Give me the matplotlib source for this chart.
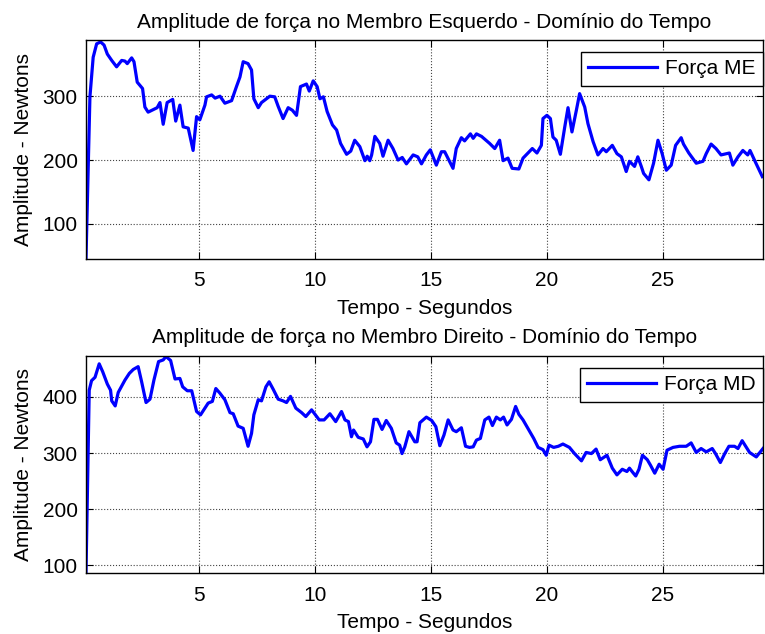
import matplotlib
matplotlib.use('Agg')
import matplotlib.pyplot as plt
import numpy as np

plt.rcParams['font.family'] = ['Liberation Sans', 'DejaVu Sans']

# Força no membro esquerdo (ME)
t_me = [0.13, 0.30, 0.44, 0.59, 0.76, 0.91, 1.05, 1.24, 1.45, 1.67, 1.81, 1.91, 2.10, 2.20, 2.34,
        2.57, 2.67, 2.81, 3.03, 3.20, 3.32, 3.46, 3.63, 3.87, 4.00, 4.18, 4.32, 4.54, 4.75, 4.90,
        5.04, 5.26, 5.33, 5.55, 5.70, 5.91, 6.12, 6.41, 6.62, 6.77, 6.91, 7.12, 7.27, 7.37, 7.56,
        7.70, 8.06, 8.27, 8.42, 8.63, 8.85, 9.03, 9.21, 9.38, 9.64, 9.76, 9.93, 10.10, 10.22, 10.37,
        10.53, 10.76, 10.94, 11.11, 11.37, 11.55, 11.72, 11.94, 12.16, 12.26, 12.37, 12.45, 12.59,
        12.80, 12.94, 13.16, 13.37, 13.59, 13.77, 13.95, 14.24, 14.44, 14.60, 14.81, 14.98, 15.24,
        15.46, 15.60, 15.96, 16.10, 16.32, 16.46, 16.71, 16.83, 16.97, 17.19, 17.54, 17.76, 17.97,
        18.12, 18.33, 18.51, 18.80, 18.98, 19.19, 19.38, 19.58, 19.77, 19.84, 20.01, 20.16, 20.27,
        20.41, 20.59, 20.78, 20.92, 21.09, 21.28, 21.42, 21.64, 21.78, 22.00, 22.21, 22.43, 22.57,
        22.83, 23.03, 23.22, 23.43, 23.57, 23.79, 23.93, 24.08, 24.18, 24.41, 24.61, 24.80, 24.98,
        25.16, 25.37, 25.56, 25.80, 25.90, 26.13, 26.45, 26.74, 26.88, 27.09, 27.30, 27.52, 27.88,
        28.03, 28.25, 28.46, 28.67, 28.77, 28.96, 29.30]
f_me = [45, 299, 361, 382, 385, 380, 366, 356, 346, 356, 355, 351, 360, 354, 322,
        312, 283, 275, 279, 282, 290, 256, 290, 295, 261, 286, 252, 250, 215, 268,
        263, 286, 299, 302, 297, 300, 289, 293, 315, 330, 354, 351, 341, 296, 282,
        290, 300, 299, 284, 265, 282, 278, 270, 315, 319, 308, 324, 315, 296, 299,
        276, 255, 247, 226, 209, 214, 231, 221, 199, 206, 199, 208, 237,
        226, 206, 231, 218, 200, 204, 194, 208, 205, 194, 208, 216, 192,
        213, 213, 187, 218, 235, 230, 241, 234, 241, 237, 226, 218, 231,
        199, 203, 187, 186, 203, 211, 218, 211, 223, 265, 270, 265, 236,
        231, 209, 252, 282, 244, 278, 304, 283, 257, 229, 208, 218, 213,
        223, 210, 205, 182, 198, 190, 205, 190, 179, 169, 195, 231, 210,
        184, 192, 223, 235, 225, 211, 195, 198, 210, 225, 218, 208, 211,
        192, 205, 215, 208, 215, 200, 174]

# Força no membro direito (MD)
t_md = [0.13, 0.27, 0.37, 0.52, 0.70, 0.85, 1.05, 1.19, 1.24, 1.39, 1.52, 1.81, 2.00, 2.17, 2.38,
        2.53, 2.72, 2.89, 3.06, 3.26, 3.46, 3.58, 3.78, 3.97, 4.18, 4.30, 4.50, 4.69, 4.90, 5.07,
        5.40, 5.58, 5.73, 5.90, 6.12, 6.34, 6.48, 6.69, 6.91, 7.12, 7.27, 7.37, 7.56, 7.70, 7.89,
        8.03, 8.20, 8.42, 8.63, 8.78, 8.95, 9.18, 9.43, 9.61, 9.86, 10.19, 10.40, 10.65, 10.90,
        11.15, 11.30, 11.45, 11.58, 11.67, 11.87, 12.09, 12.25, 12.40, 12.55, 12.70, 12.90, 13.08,
        13.30, 13.51, 13.66, 13.76, 13.88, 14.06, 14.31, 14.41, 14.53, 14.81, 15.04, 15.22, 15.39,
        15.57, 15.75, 15.96, 16.10, 16.32, 16.50, 16.67, 16.83, 16.97, 17.14, 17.33, 17.51, 17.66,
        17.83, 18.00, 18.14, 18.29, 18.48, 18.66, 18.80, 18.98, 19.27, 19.44, 19.63, 19.84, 19.98,
        20.10, 20.30, 20.50, 20.70, 20.98, 21.20, 21.50, 21.70, 21.93, 22.13, 22.31, 22.60, 22.83,
        23.03, 23.26, 23.46, 23.57, 23.72, 23.84, 23.98, 24.13, 24.34, 24.48, 24.66, 24.85, 25.02,
        25.19, 25.45, 25.73, 26.02, 26.23, 26.45, 26.66, 26.88, 27.14, 27.28, 27.49, 27.68, 27.86,
        28.10, 28.25, 28.43, 28.58, 28.75, 29.04, 29.33]
f_md = [85, 412, 429, 435, 459, 445, 423, 412, 393, 384, 408, 430, 442, 449, 454,
        427, 390, 396, 430, 463, 466, 472, 465, 432, 433, 418, 411, 411, 374, 368,
        389, 392, 415, 407, 395, 372, 370, 348, 344, 312, 335, 368, 395, 393, 418,
        427, 414, 396, 393, 390, 401, 380, 372, 365, 377, 359, 359, 370, 356,
        374, 359, 356, 329, 341, 328, 325, 311, 320, 360, 360, 342, 358,
        344, 318, 314, 299, 311, 338, 320, 320, 354, 364, 358, 347, 313,
        332, 359, 341, 338, 345, 312, 310, 311, 323, 326, 359, 364, 349,
        364, 359, 364, 350, 360, 383, 369, 359, 338, 326, 310, 306, 296,
        314, 310, 312, 316, 310, 299, 286, 301, 299, 307, 288, 296, 273,
        261, 271, 267, 273, 265, 259, 271, 296, 288, 278, 264, 280, 271,
        305, 310, 312, 312, 318, 301, 308, 302, 308, 299, 283, 299, 312,
        312, 308, 322, 312, 301, 293, 308]

x_ticks = [5, 10, 15, 20, 25]
fs = 15

fig = plt.figure(figsize=(7.65, 6.34), dpi=100)
ax1 = fig.add_axes([0.1124, 0.5915, 0.885, 0.3454])
ax2 = fig.add_axes([0.1124, 0.0962, 0.885, 0.3423])


def estilo(ax, t, f, rotulo, titulo, ylim, yticks):
    ax.plot(t, f, color='#0000ff', lw=2.3, label=rotulo)
    ax.set_xlim(0.13, 29.33)
    ax.set_ylim(*ylim)
    ax.set_xticks(x_ticks)
    ax.set_yticks(yticks)
    ax.grid(True, linestyle=':', color='#444444', lw=0.8)
    ax.tick_params(direction='in', top=True, right=True, length=5, width=0.8,
                   labelsize=fs)
    ax.tick_params(axis='x', pad=9)
    ax.tick_params(axis='y', pad=6)
    for s in ax.spines.values():
        s.set_linewidth(1.0)
    ax.set_title(titulo, fontsize=fs, pad=9)
    ax.set_xlabel('Tempo - Segundos', fontsize=fs, labelpad=6)
    ax.set_ylabel('Amplitude - Newtons', fontsize=fs, labelpad=7)
    leg = ax.legend(loc='upper right', bbox_to_anchor=(1.0, 0.945), borderaxespad=0,
                    fancybox=False, framealpha=1, edgecolor='black', fontsize=fs,
                    handlelength=3.3, handletextpad=0.4, borderpad=0.35)
    leg.get_frame().set_linewidth(1.0)


estilo(ax1, t_me, f_me, 'Força ME',
       'Amplitude de força no Membro Esquerdo - Domínio do Tempo',
       (45, 388), [100, 200, 300])
estilo(ax2, t_md, f_md, 'Força MD',
       'Amplitude de força no Membro Direito - Domínio do Tempo',
       (86, 473), [100, 200, 300, 400])

plt.savefig('out.png', dpi=100)
